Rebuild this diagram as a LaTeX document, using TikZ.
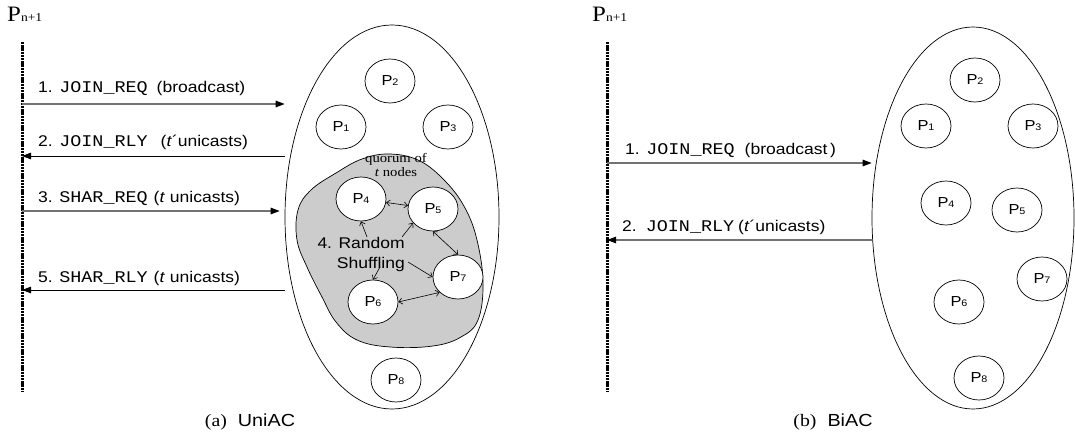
\documentclass[tikz,border=0pt]{standalone}
\usepackage{fontspec}
\setmainfont[FakeStretch=1.13]{Liberation Sans}
\setmonofont[FakeStretch=1.13]{Liberation Mono}
\newfontfamily\serifrm[FakeStretch=1.13]{Liberation Serif}
\usetikzlibrary{arrows.meta,shapes.geometric}

% process label P_i and message name
\newcommand{\proclbl}[1]{{\fontsize{14.5}{14}\selectfont P}{\fontsize{9.5}{10}\selectfont #1}}
\newcommand{\msgname}[1]{{\ttfamily\fontsize{16.3}{16}\selectfont #1}}
\newcommand{\newnode}{{\serifrm\fontsize{22}{22}\selectfont P}{\serifrm\fontsize{12}{12}\selectfont n+1}}

\begin{document}
\begin{tikzpicture}[x=1pt,y=-1pt,
  font=\fontsize{15.5}{18}\selectfont,
  lifeline/.style={line width=3pt, dash pattern=on 2.4pt off 0.8pt},
  send/.style={draw=black!55, line width=1.2pt, -{Triangle[length=9pt,width=6.5pt,color=black]}},
  reply/.style={draw=black, line width=0.8pt, -{Triangle[length=9pt,width=6.5pt]}},
  group/.style={ellipse, draw, line width=0.7pt, inner sep=0pt},
  proc/.style={ellipse, draw, fill=white, minimum width=50pt, minimum height=44pt, inner sep=0pt, line width=0.7pt},
  lbl/.style={anchor=base west, inner sep=0pt},
  swap/.style={line width=0.6pt, {Straight Barb[length=3.5pt,width=6pt]}-{Straight Barb[length=3.5pt,width=6pt]}},
  pick/.style={line width=0.6pt, -{Straight Barb[length=3.5pt,width=6pt]}}]
\useasboundingbox (0,0) rectangle (1075,438);

% ---------------- (a) UniAC ----------------
\node[lbl] (na) at (7,22) {\newnode};
\coordinate (la0) at (22,42);
\coordinate (la1) at (22,392);
\draw[lifeline] (la0) -- (la1);

\node[group, minimum width=214pt, minimum height=384pt] (ga) at (392,217) {};

% quorum region
\draw[line width=0.7pt, fill=black!20] plot[smooth cycle, tension=0.65] coordinates {
  (298,210) (311,190) (336,173) (362,159) (390,154) (420,161) (446,182)
  (465,208) (477,240) (483,283) (478,320) (461,337) (433,346) (390,347)
  (357,340) (336,322) (322,297) (307,267) (297,240)};
\node[font=\serifrm\fontsize{13}{14}\selectfont, align=center, inner sep=0pt] (quorum) at (396,165) {quorum of\\\textit{t} nodes};

\node[proc] (p1) at (341,127) {\proclbl{1}};
\node[proc] (p2) at (390,81)  {\proclbl{2}};
\node[proc] (p3) at (448,127) {\proclbl{3}};
\node[proc] (p4) at (361,199) {\proclbl{4}};
\node[proc] (p5) at (433,209) {\proclbl{5}};
\node[proc] (p6) at (373,302) {\proclbl{6}};
\node[proc] (p7) at (458,277) {\proclbl{7}};
\node[proc] (p8) at (396,380) {\proclbl{8}};

\node[align=right, anchor=east, inner sep=0pt, font=\fontsize{15.5}{20}\selectfont] (shuf) at (405,254) {4. Random\\Shuffling};
\coordinate (s4) at (367,237);
\coordinate (s5) at (402,237);
\coordinate (s6) at (380,267);
\coordinate (s7) at (408,262);
\draw[pick] (s4) -- (p4.south);
\draw[pick] (s5) -- (p5.215);
\draw[pick] (s6) -- (p6.north);
\draw[pick] (s7) -- (p7.west);
\draw[swap] (p4) -- (p5);
\draw[swap] (p5.south) -- (p7.north);
\draw[swap] (p6.east) -- (p7.220);

% messages
\node[lbl] (a1) at (38,93)  {1. \msgname{JOIN\_REQ}\hspace{9pt}(broadcast)};
\node[lbl] (a2) at (38,147) {2. \msgname{JOIN\_RLY}\hspace{13pt}(\textit{t}´unicasts)};
\node[lbl] (a3) at (38,203) {3. \msgname{SHAR\_REQ}\hspace{6pt}(\textit{t} unicasts)};
\node[lbl] (a5) at (38,282) {5. \msgname{SHAR\_RLY}\hspace{6pt}(\textit{t} unicasts)};
\coordinate (a1s) at (22,104);
\coordinate (a2s) at (22,156);
\coordinate (a3s) at (22,211);
\coordinate (a5s) at (22,290);
\draw[send]  (a1s) -- (a1s -| ga.west);
\draw[reply] (a2s -| ga.west) -- (a2s);
\draw[send]  (a3s) -- ([xshift=-5pt]a3s -| ga.west);
\draw[reply] (a5s -| ga.west) -- (a5s);

\node[anchor=base, inner sep=0pt, font=\fontsize{17.5}{20}\selectfont] (capa) at (250,426) {{\serifrm (a)}\ \ UniAC};

% ---------------- (b) BiAC ----------------
\node[lbl] (nb) at (592,22) {\newnode};
\coordinate (lb0) at (607,42);
\coordinate (lb1) at (607,392);
\draw[lifeline] (lb0) -- (lb1);

\node[group, minimum width=202pt, minimum height=382pt] (gb) at (973,218) {};

\node[proc] (q1) at (926,126)  {\proclbl{1}};
\node[proc] (q2) at (975,80)   {\proclbl{2}};
\node[proc] (q3) at (1033,126) {\proclbl{3}};
\node[proc] (q4) at (946,203)  {\proclbl{4}};
\node[proc] (q5) at (1017,210) {\proclbl{5}};
\node[proc] (q6) at (959,302)  {\proclbl{6}};
\node[proc] (q7) at (1042,279) {\proclbl{7}};
\node[proc] (q8) at (979,378)  {\proclbl{8}};

\node[lbl] (b1) at (625,155) {1. \msgname{JOIN\_REQ}\hspace{10pt}(broadcast\,)};
\node[lbl] (b2) at (622,232) {2.\hspace{9pt}\msgname{JOIN\_RLY}\hspace{4pt}(\textit{t}´unicasts)};
\coordinate (b1s) at (607,163);
\coordinate (b2s) at (607,240);
\draw[send] (b1s) -- (b1s -| gb.west);
\draw[send] (b2s -| gb.west) -- (b2s);

\node[anchor=base, inner sep=0pt, font=\fontsize{17.5}{20}\selectfont] (capb) at (833,426) {{\serifrm (b)}\ \ BiAC};
\end{tikzpicture}
\end{document}
